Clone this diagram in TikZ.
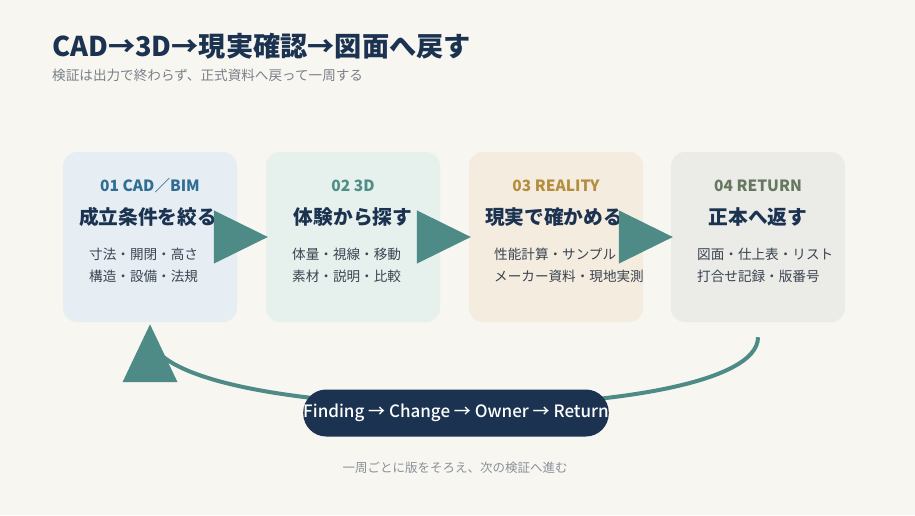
\documentclass[tikz,border=0pt]{standalone}
\usepackage{fontspec}
\setmainfont{Noto Sans CJK JP}
\newfontfamily\medfont{Noto Sans CJK JP Medium}
\usetikzlibrary{arrows.meta,decorations.markings}

\definecolor{paper}{HTML}{F7F6F1}
\definecolor{navy}{HTML}{1B3350}
\definecolor{tealarrow}{HTML}{4E8A86}
\definecolor{ink}{HTML}{3A4350}
\definecolor{subgray}{HTML}{7B8088}
\definecolor{footgray}{HTML}{8A8F98}
\definecolor{cardA}{HTML}{E6EEF4}
\definecolor{cardB}{HTML}{E6F0EC}
\definecolor{cardC}{HTML}{F4ECDF}
\definecolor{cardD}{HTML}{EBECE7}
\definecolor{tagA}{HTML}{2F6D92}
\definecolor{tagB}{HTML}{4E8E88}
\definecolor{tagC}{HTML}{B48E3E}
\definecolor{tagD}{HTML}{66785F}

\tikzset{
  cardbox/.style={rounded corners=14pt, minimum width=174pt, minimum height=170pt, inner sep=0pt},
  tagtext/.style={inner sep=0pt, font=\bfseries\fontsize{15.5}{18}\selectfont},
  headtext/.style={inner sep=0pt, text=navy, font=\bfseries\fontsize{19.7}{23}\selectfont},
  bodytext/.style={anchor=west, inner sep=0pt, align=left, text=ink, font=\fontsize{13.6}{22}\selectfont},
  flowarrow/.style={tealarrow, line width=1pt, shorten >=-2pt, -{Triangle[length=54pt,width=53pt]}},
  returnloop/.style={tealarrow, line width=4pt, shorten >=10pt, postaction={decorate},
    decoration={markings, mark=at position 1 with {\arrow{Triangle[length=58pt,width=54pt]}}}},
  pillbox/.style={fill=navy, rounded corners=23pt, minimum width=302pt, minimum height=47pt, inner sep=0pt,
    text=white, font=\medfont\fontsize{17}{20}\selectfont}
}

\begin{document}
\begin{tikzpicture}[x=1pt,y=-1pt]
  \fill[paper] (0,0) rectangle (915,515);
  \useasboundingbox (0,0) rectangle (915,515);

  \node[anchor=base west, inner sep=0pt, text=navy, font=\bfseries\fontsize{27.2}{32}\selectfont] (title) at (52,56) {CAD→3D→現実確認→図面へ戻す};
  \node[anchor=base west, inner sep=0pt, text=subgray, font=\fontsize{13.6}{16}\selectfont] (subtitle) at (52,80) {検証は出力で終わらず、正式資料へ戻って一周する};

  % cards
  \node[cardbox, fill=cardA] (cad) at (150,237) {};
  \node[cardbox, fill=cardB] (model) at (353,237) {};
  \node[cardbox, fill=cardC] (reality) at (556,237) {};
  \node[cardbox, fill=cardD] (return) at (758,237) {};

  \node[tagtext, text=tagA] (cadtag) at (150,186) {01 CAD／BIM};
  \node[headtext] (cadhead) at (148,217) {成立条件を絞る};
  \node[bodytext] (cadbody) at (89,265) {寸法・開閉・高さ\\構造・設備・法規};

  \node[tagtext, text=tagB] (modeltag) at (353,186) {02 3D};
  \node[headtext] (modelhead) at (353,217) {体験から探す};
  \node[bodytext] (modelbody) at (292,265) {体量・視線・移動\\素材・説明・比較};

  \node[tagtext, text=tagC] (realitytag) at (556,186) {03 REALITY};
  \node[headtext] (realityhead) at (554,217) {現実で確かめる};
  \node[bodytext] (realitybody) at (494,265) {性能計算・サンプル\\メーカー資料・現地実測};

  \node[tagtext, text=tagD] (returntag) at (758,186) {04 RETURN};
  \node[headtext] (returnhead) at (758,217) {正本へ返す};
  \node[bodytext] (returnbody) at (697,265) {図面・仕上表・リスト\\打合せ記録・版番号};

  % flow between cards
  \foreach \a/\b in {cad/model, model/reality, reality/return}
    \draw[flowarrow] (\a) -- (\b);

  % loop back
  \coordinate (loopend) at ([yshift=-2pt]cad.south);
  \draw[returnloop, shorten <=15pt] (return.south) .. controls +(0,108) and +(0,104) .. (loopend);
  \node[pillbox] (cycle) at (456,413) {Finding → Change → Owner → Return};

  \node[text=footgray, inner sep=0pt, font=\fontsize{12.5}{15}\selectfont] (footer) at (455,468) {一周ごとに版をそろえ、次の検証へ進む};
\end{tikzpicture}
\end{document}
